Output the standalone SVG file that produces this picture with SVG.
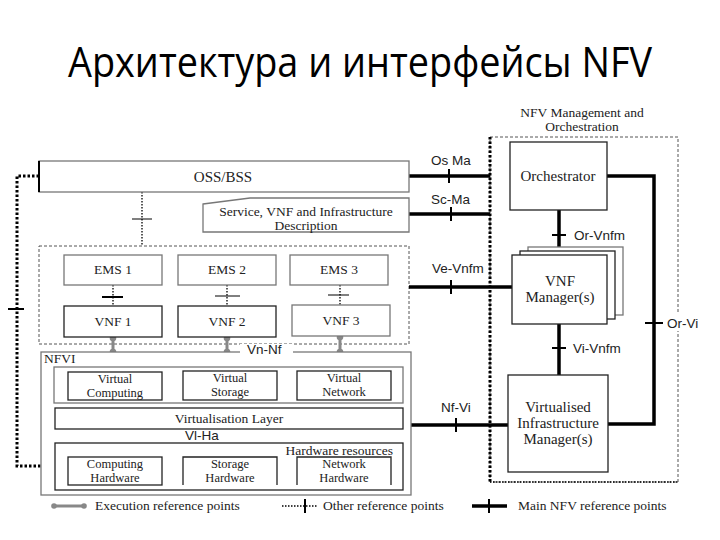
<svg xmlns="http://www.w3.org/2000/svg" width="720" height="540" viewBox="0 0 720 540">
<defs>
<style>
.t{font-family:"Liberation Serif","Times New Roman",serif;font-size:13.5px;fill:#222;text-anchor:middle}
.tm{font-family:"Liberation Serif","Times New Roman",serif;font-size:15px;fill:#222;text-anchor:middle}
.t2{font-family:"Liberation Serif","Times New Roman",serif;font-size:12.5px;fill:#222;text-anchor:middle}
.ts{font-family:"Liberation Serif","Times New Roman",serif;font-size:13.5px;fill:#222;text-anchor:start}
.te{font-family:"Liberation Serif","Times New Roman",serif;font-size:13.5px;fill:#222;text-anchor:end}
.s{font-family:"Liberation Sans",Arial,sans-serif;font-size:13.5px;fill:#222;text-anchor:start}
.box{fill:#fff;stroke:#222;stroke-width:1.3}
.gbox{fill:#fff;stroke:#777;stroke-width:1.3}
.main{stroke:#000;stroke-width:3.5;fill:none}
.tick{stroke:#000;stroke-width:2}
.thin{stroke:#000;stroke-width:1}
.dot{stroke:#000;stroke-width:1.3;stroke-dasharray:1.5 1.5;fill:none}
.bigdot{stroke:#000;stroke-width:3;stroke-dasharray:2.5 2;fill:none}
.dash{stroke:#555;stroke-width:1;stroke-dasharray:3 2;fill:none}
.exe{stroke:#888;stroke-width:3}
.exed{fill:#888}
</style>
</defs>
<rect width="720" height="540" fill="#fff"/>
<text x="360" y="77" font-family="'Open Sans','Noto Sans',sans-serif" font-size="42" fill="#000" text-anchor="middle" textLength="584" lengthAdjust="spacingAndGlyphs">Архитектура и интерфейсы NFV</text>

<g id="mano-container">
<rect x="490" y="137" width="188" height="345" class="dash"/>
<line x1="490" y1="137" x2="490" y2="482" class="bigdot" stroke-width="2"/>
<line x1="490" y1="482" x2="678" y2="482" class="dot"/>
<text class="t" x="582" y="117">NFV Management and</text>
<text class="t" x="582" y="131">Orchestration</text>
</g>

<g id="vnf-container">
<rect x="39" y="246" width="370" height="98" class="dash"/>
</g>

<g id="connectors">
<polyline points="39,176 17,176 17,466 55,466" class="bigdot"/>
<line x1="8" y1="309" x2="24" y2="309" class="tick"/>
<line x1="142" y1="192" x2="142" y2="246" class="dot"/>
<line x1="132" y1="219" x2="152" y2="219" class="thin"/>
<line x1="409" y1="176" x2="490" y2="176" class="main"/>
<line x1="449" y1="169" x2="449" y2="183" class="tick"/>
<line x1="409" y1="214" x2="490" y2="214" class="main"/>
<line x1="451" y1="207" x2="451" y2="221" class="tick"/>
<line x1="409" y1="287" x2="512" y2="287" class="main"/>
<line x1="451" y1="280" x2="451" y2="294" class="tick"/>
<line x1="411" y1="425" x2="508" y2="425" class="main"/>
<line x1="456" y1="418" x2="456" y2="432" class="tick"/>
<line x1="559" y1="210" x2="559" y2="250" class="main"/>
<line x1="552" y1="235" x2="566" y2="235" class="tick"/>
<line x1="559" y1="324" x2="559" y2="375" class="main"/>
<line x1="552" y1="348" x2="566" y2="348" class="tick"/>
<polyline points="607,176 654,176 654,424 608,424" class="main"/>
<line x1="645" y1="323" x2="663" y2="323" class="tick"/>
<line x1="113" y1="285" x2="113" y2="306" class="dot"/>
<line x1="102" y1="297" x2="123" y2="297" class="tick" stroke-width="2.5"/>
<line x1="227" y1="285" x2="227" y2="306" class="dot"/>
<line x1="215" y1="296" x2="240" y2="296" class="thin"/>
<line x1="340" y1="285" x2="340" y2="305" class="dot"/>
<line x1="328" y1="295" x2="349" y2="295" class="thin"/>
<line x1="113" y1="338" x2="113" y2="352" class="exe"/>
<circle cx="113" cy="338" r="3.3" class="exed"/><circle cx="113" cy="352" r="3.3" class="exed"/>
<line x1="227" y1="338" x2="227" y2="352" class="exe"/>
<circle cx="227" cy="338" r="3.3" class="exed"/><circle cx="227" cy="352" r="3.3" class="exed"/>
<line x1="340" y1="337" x2="340" y2="352" class="exe"/>
<circle cx="340" cy="337" r="3.3" class="exed"/><circle cx="340" cy="352" r="3.3" class="exed"/>
<line x1="229" y1="429" x2="229" y2="442" class="exe"/>
<circle cx="229" cy="429" r="3.3" class="exed"/><circle cx="229" cy="442" r="3.3" class="exed"/>
</g>

<g id="labels">
<text class="s" x="431" y="165">Os Ma</text>
<text class="s" x="431" y="204">Sc-Ma</text>
<text class="s" x="432" y="273">Ve-Vnfm</text>
<text class="s" x="441" y="412">Nf-Vi</text>
<text class="s" x="574" y="240">Or-Vnfm</text>
<text class="s" x="573" y="353">Vi-Vnfm</text>
<rect x="664" y="314" width="40" height="17" fill="#fff"/>
<text class="s" x="667" y="328">Or-Vi</text>
</g>

<g id="oss-bss">
<rect x="39" y="161" width="370" height="31" class="gbox"/>
<line x1="39" y1="161" x2="39" y2="192" stroke="#000" stroke-width="2"/>
<text class="tm" x="223" y="182">OSS/BSS</text>
</g>

<g id="service-desc">
<polygon points="203,204 250,198 409,198 409,232 203,232" class="gbox"/>
<text class="t" x="306" y="216">Service, VNF and Infrastructure</text>
<text class="t" x="306" y="230">Description</text>
</g>

<g id="ems1"><rect x="64" y="255" width="98" height="30" class="gbox"/><text class="t" x="113" y="274">EMS 1</text></g>
<g id="ems2"><rect x="178" y="255" width="98" height="30" class="gbox"/><text class="t" x="227" y="274">EMS 2</text></g>
<g id="ems3"><rect x="290" y="255" width="98" height="30" class="gbox"/><text class="t" x="339" y="274">EMS 3</text></g>
<g id="vnf1"><rect x="64" y="306" width="98" height="31" class="box"/><text class="t" x="113" y="326">VNF 1</text></g>
<g id="vnf2"><rect x="178" y="306" width="98" height="31" class="box"/><text class="t" x="227" y="326">VNF 2</text></g>
<g id="vnf3"><rect x="292" y="305" width="98" height="31" class="gbox"/><text class="t" x="341" y="325">VNF 3</text></g>

<g id="nfvi">
<rect x="41" y="352" width="370" height="143" class="gbox"/>
<rect x="240" y="344" width="53" height="14" fill="#fff"/>
<text class="s" x="247" y="354">Vn-Nf</text>
<text class="ts" x="44" y="363">NFVI</text>
<rect x="54" y="367" width="349" height="36" class="gbox"/>
<g id="virtual-computing"><rect x="68" y="372" width="94" height="28" class="box"/><text class="t2" x="115" y="383">Virtual</text><text class="t2" x="115" y="397">Computing</text></g>
<g id="virtual-storage"><rect x="183" y="371" width="94" height="29" class="box"/><text class="t2" x="230" y="382">Virtual</text><text class="t2" x="230" y="396">Storage</text></g>
<g id="virtual-network"><rect x="297" y="371" width="94" height="29" class="box"/><text class="t2" x="344" y="382">Virtual</text><text class="t2" x="344" y="396">Network</text></g>
<g id="virt-layer"><rect x="55" y="408" width="348" height="21" class="box"/><text class="t" x="229" y="423">Virtualisation Layer</text></g>
<text class="s" x="185" y="440">Vl-Ha</text>
<rect x="55" y="443" width="348" height="47" class="box"/>
<text class="te" x="393" y="455">Hardware resources</text>
<g id="computing-hw"><rect x="68" y="457" width="94" height="28" class="box"/><text class="t2" x="115" y="468">Computing</text><text class="t2" x="115" y="482">Hardware</text></g>
<g id="storage-hw"><path d="M183,485 V457 H277 V485" class="box"/><text class="t2" x="230" y="468">Storage</text><text class="t2" x="230" y="482">Hardware</text></g>
<g id="network-hw"><path d="M297,485 V457 H391 V485" class="box"/><text class="t2" x="344" y="468">Network</text><text class="t2" x="344" y="482">Hardware</text></g>
</g>

<g id="orchestrator"><rect x="510" y="142" width="97" height="68" class="box"/><text class="tm" x="558" y="181">Orchestrator</text></g>

<g id="vnf-manager">
<rect x="528" y="247" width="95" height="68" class="gbox"/>
<rect x="520" y="251" width="95" height="68" class="box"/>
<rect x="512" y="255" width="95" height="69" class="box"/>
<text class="tm" x="560" y="286">VNF</text>
<text class="tm" x="560" y="302">Manager(s)</text>
</g>

<g id="vim"><rect x="508" y="375" width="100" height="97" class="box"/>
<text class="tm" x="558" y="412">Virtualised</text><text class="tm" x="558" y="428">Infrastructure</text><text class="tm" x="558" y="444">Manager(s)</text></g>

<g id="legend">
<line x1="54" y1="506" x2="84" y2="506" class="exe" stroke-width="1.5"/>
<circle cx="54" cy="506" r="2.8" class="exed"/><circle cx="84" cy="506" r="2.8" class="exed"/>
<text class="ts" x="95" y="510">Execution reference points</text>
<line x1="282" y1="506" x2="318" y2="506" class="dot" stroke="#999" stroke-width="0.8"/>
<line x1="305" y1="499" x2="305" y2="513" class="tick" stroke-width="2.5"/>
<text class="ts" x="323" y="510">Other reference points</text>
<line x1="472" y1="506" x2="507" y2="506" class="main"/>
<line x1="489" y1="499" x2="489" y2="513" class="tick" stroke-width="2.5"/>
<text class="ts" x="518" y="510">Main NFV reference points</text>
</g>
</svg>
